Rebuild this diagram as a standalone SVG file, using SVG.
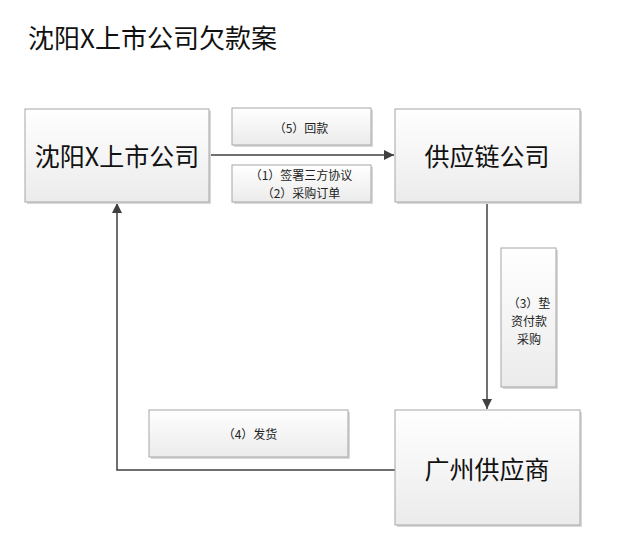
<svg xmlns="http://www.w3.org/2000/svg" width="630" height="550" viewBox="0 0 630 550">
<defs>
<linearGradient id="g" x1="0" y1="0" x2="0" y2="1">
<stop offset="0" stop-color="#ffffff"/>
<stop offset="1" stop-color="#ebebeb"/>
</linearGradient>
<marker id="arr" viewBox="0 0 10 10" refX="10" refY="5" markerWidth="10" markerHeight="10" markerUnits="userSpaceOnUse" orient="auto">
<path d="M0,0 L10,5 L0,10 z" fill="#404040"/>
</marker>
</defs>
<style>
.box{fill:url(#g);stroke:#a6a6a6;stroke-width:1}
.sh{fill:#d9d9d9}
.big{font-family:"Noto Sans CJK SC","Liberation Sans",sans-serif;font-size:25px;fill:#111;text-anchor:middle;dominant-baseline:central}
.lbl{font-family:"Noto Sans CJK SC","Liberation Sans",sans-serif;font-size:12px;fill:#222;text-anchor:middle;dominant-baseline:central}
.ln{fill:none;stroke:#404040;stroke-width:1.5}
</style>
<rect width="630" height="550" fill="#ffffff"/>
<text x="28" y="36" font-family="Noto Sans CJK SC, Liberation Sans, sans-serif" font-size="26" fill="#111" dominant-baseline="central">沈阳X上市公司欠款案</text>

<g id="connectors">
<path class="ln" d="M209,155 L394,155" marker-end="url(#arr)"/>
<path class="ln" d="M487,202 L487,409" marker-end="url(#arr)"/>
<path class="ln" d="M395,470 L117,470 L117,203" marker-end="url(#arr)"/>
</g>

<g id="n-shenyang">
<rect class="sh" x="27" y="111" width="184" height="93"/>
<rect class="box" x="25" y="109" width="184" height="93"/>
<text class="big" x="117" y="155">沈阳X上市公司</text>
</g>
<g id="n-supplychain">
<rect class="sh" x="397" y="111" width="185" height="93"/>
<rect class="box" x="395" y="109" width="185" height="93"/>
<text class="big" x="487" y="155">供应链公司</text>
</g>
<g id="n-guangzhou">
<rect class="sh" x="397" y="412" width="185" height="115"/>
<rect class="box" x="395" y="410" width="185" height="115"/>
<text class="big" x="487" y="468">广州供应商</text>
</g>
<g id="l5">
<rect class="sh" x="234" y="110" width="139" height="37"/>
<rect class="box" x="232" y="108" width="139" height="37"/>
<text class="lbl" x="301" y="127">（5）回款</text>
</g>
<g id="l12">
<rect class="sh" x="234" y="167" width="139" height="37"/>
<rect class="box" x="232" y="165" width="139" height="37"/>
<text class="lbl" x="301" y="174.5">（1）签署三方协议</text>
<text class="lbl" x="301" y="192.5">（2）采购订单</text>
</g>
<g id="l3">
<rect class="sh" x="503" y="250" width="55" height="139"/>
<rect class="box" x="501" y="248" width="55" height="139"/>
<text class="lbl" x="529" y="302">（3）垫</text>
<text class="lbl" x="529" y="320">资付款</text>
<text class="lbl" x="529" y="338">采购</text>
</g>
<g id="l4">
<rect class="sh" x="151" y="412" width="199" height="47"/>
<rect class="box" x="149" y="410" width="199" height="47"/>
<text class="lbl" x="250" y="433">（4）发货</text>
</g>
</svg>
